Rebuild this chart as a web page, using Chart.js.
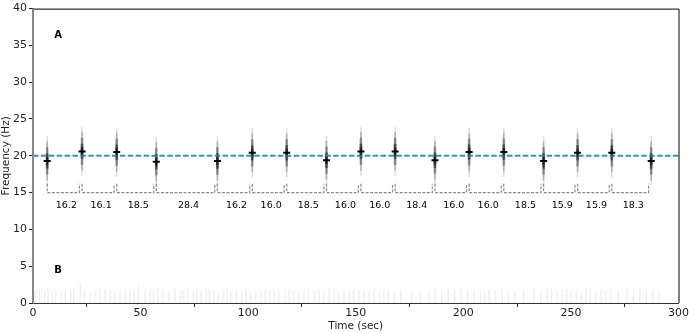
<!DOCTYPE html>
<html>
<head>
<title>Burst intervals</title>
<script src="https://cdn.jsdelivr.net/npm/chart.js"></script>
<style>
  body { margin: 0; padding: 0; background: #fff; }
  canvas { display: block; }
</style>
</head>
<body>
<canvas id="chart" width="689" height="333"></canvas>
<script>
// burst onset times (sec) and peak frequency (Hz)
const burstTimes = [6.6, 22.8, 38.9, 57.3, 85.7, 101.9, 117.9, 136.4, 152.4, 168.3, 186.8, 202.7, 218.8, 237.3, 253.1, 269.0, 287.3];
const burstFreqs = [19.3, 20.6, 20.5, 19.2, 19.3, 20.4, 20.4, 19.4, 20.6, 20.6, 19.4, 20.5, 20.5, 19.3, 20.4, 20.4, 19.3];
// inter-burst intervals printed under the brackets
const intervals = [16.2, 16.1, 18.5, 28.4, 16.2, 16.0, 18.5, 16.0, 16.0, 18.4, 16.0, 16.0, 18.5, 15.9, 15.9, 18.3];
const targetFreq = 20;
// faint background noise in panel B
const noiseTimes = [1, 3, 5.5, 7, 9, 10.5, 13, 15, 17.5, 19, 22, 24, 26.5, 29, 31, 33.5, 36, 38, 40.5, 43, 45, 47, 49, 52, 54.5, 56, 58, 60.5, 63, 66, 68.5, 70, 72, 74.5, 76, 78, 80.5, 82, 84, 86, 88.5, 90, 92, 94.5, 97, 99, 101, 103.5, 106, 108, 110, 112, 114.5, 117, 119, 121, 123.5, 126, 128, 131, 133, 135, 137.5, 140, 142, 144.5, 147, 149, 151.5, 154, 156, 158.5, 161, 163, 165, 168, 171, 176, 180, 184, 187, 190, 193, 196, 199, 202, 205, 208, 210, 212, 215, 218, 221, 224, 228, 233, 236, 239, 241, 243.5, 246, 248, 250, 252.5, 255, 257, 259, 261.5, 264, 266, 268.5, 272, 276, 279, 282, 285, 288, 291, 294, 297, 299];
const noiseHeights = [1.7, 1.8, 1.6, 1.9, 1.7, 1.8, 1.6, 1.9, 1.8, 1.7, 2.7, 1.8, 1.6, 1.7, 1.9, 1.8, 1.7, 1.6, 1.8, 1.9, 1.7, 1.8, 2.3, 1.7, 1.8, 1.6, 1.9, 1.7, 1.8, 2.0, 1.7, 1.8, 1.9, 1.6, 1.8, 1.7, 1.9, 1.8, 1.7, 1.6, 1.8, 1.9, 1.7, 1.8, 1.6, 1.9, 1.7, 1.8, 1.7, 1.9, 1.6, 1.8, 1.7, 1.8, 1.9, 1.7, 1.6, 1.8, 1.9, 1.7, 1.8, 1.7, 1.9, 1.8, 1.6, 1.7, 1.9, 1.8, 1.7, 1.8, 1.6, 1.9, 1.7, 1.8, 1.7, 1.6, 1.8, 1.7, 1.8, 1.7, 1.9, 1.6, 1.8, 1.7, 1.9, 1.8, 1.7, 1.8, 1.6, 1.9, 1.7, 1.8, 1.7, 1.6, 1.8, 1.9, 1.7, 1.8, 1.9, 1.7, 1.8, 1.9, 1.7, 1.8, 1.6, 1.9, 1.8, 1.7, 1.8, 1.7, 1.8, 1.6, 1.9, 1.7, 1.8, 1.7, 1.8, 1.7];

// spectrogram streak: layers getting darker and wider toward the peak
const streakLayers = [
  { half: 3.3, width: 1, alpha: 0.12 },
  { half: 2.6, width: 1, alpha: 0.22 },
  { half: 1.8, width: 2, alpha: 0.3 },
  { half: 1.0, width: 2, alpha: 0.45 },
  { half: 0.5, width: 2, alpha: 0.5 }
];

const streakSets = streakLayers.map((l, k) => ({
  type: 'bar',
  data: burstTimes.map((t, i) => ({ x: t, y: [burstFreqs[i] - l.half, burstFreqs[i] + l.half] })),
  backgroundColor: 'rgba(0,0,0,' + l.alpha + ')',
  borderWidth: 0,
  barThickness: l.width,
  grouped: false,
  order: 9 - k
}));

// interval brackets
const bracketPts = [];
for (let i = 0; i < intervals.length; i++) {
  const a = burstTimes[i], b = burstTimes[i + 1] - 1.2;
  bracketPts.push({ x: a, y: 16.2 }, { x: a, y: 15 }, { x: b, y: 15 }, { x: b, y: 16.2 }, { x: b, y: null });
}

const labelPlugin = {
  id: 'labels',
  afterDatasetsDraw(chart) {
    const { ctx, chartArea: ca, scales: { x, y } } = chart;
    ctx.save();
    ctx.fillStyle = '#000';
    ctx.font = '9.5px "DejaVu Sans"';
    ctx.textAlign = 'center';
    ctx.textBaseline = 'middle';
    intervals.forEach((v, i) => {
      const mid = (burstTimes[i] + burstTimes[i + 1]) / 2 + 0.8;
      ctx.fillText(v.toFixed(1), x.getPixelForValue(mid), y.getPixelForValue(13.3));
    });
    ctx.font = 'bold 10px "DejaVu Sans"';
    ctx.fillText('A', x.getPixelForValue(11.7), y.getPixelForValue(36.3));
    ctx.fillText('B', x.getPixelForValue(11.7), y.getPixelForValue(4.4));
    // frame
    ctx.strokeStyle = '#000';
    ctx.lineWidth = 1;
    ctx.beginPath();
    ctx.moveTo(ca.left, ca.top + 0.5);
    ctx.lineTo(ca.right + 0.5, ca.top + 0.5);
    ctx.lineTo(ca.right + 0.5, ca.bottom);
    ctx.stroke();
    ctx.strokeStyle = '#888';
    ctx.lineWidth = 2;
    ctx.beginPath();
    ctx.moveTo(ca.left, ca.top);
    ctx.lineTo(ca.left, ca.bottom);
    ctx.stroke();
    ctx.restore();
  }
};

const axisFont = { family: 'DejaVu Sans', size: 11 };

new Chart(document.getElementById('chart'), {
  type: 'bar',
  data: {
    datasets: [
      {
        type: 'bar',
        data: noiseTimes.map((t, i) => ({ x: t, y: noiseHeights[i] })),
        backgroundColor: 'rgba(0,0,0,0.06)',
        borderWidth: 0,
        barThickness: 1,
        grouped: false,
        order: 10
      },
      ...streakSets,
      {
        type: 'line',
        data: bracketPts,
        borderColor: '#8a8a8a',
        borderWidth: 1.2,
        borderDash: [3, 1.5],
        pointRadius: 0,
        spanGaps: false,
        order: 5
      },
      {
        type: 'line',
        data: [{ x: 0, y: targetFreq }, { x: 300, y: targetFreq }],
        borderColor: 'rgba(31,119,180,0.85)',
        borderWidth: 2,
        borderDash: [5.5, 2.4],
        pointRadius: 0,
        order: 4
      },
      {
        type: 'scatter',
        data: burstTimes.map((t, i) => ({ x: t, y: burstFreqs[i] })),
        pointStyle: 'line',
        pointRadius: 3.5,
        borderColor: '#000',
        borderWidth: 2,
        order: 1
      }
    ]
  },
  options: {
    responsive: false,
    animation: false,
    layout: { padding: { top: 3, right: 7, left: 0, bottom: 0 } },
    plugins: { legend: { display: false }, tooltip: { enabled: false } },
    scales: {
      x: {
        type: 'linear',
        min: 0, max: 300,
        offset: false,
        afterFit(s) { s.height = 30; },
        ticks: { stepSize: 50, color: '#222', font: axisFont, padding: 0, maxRotation: 0 },
        grid: { drawOnChartArea: false, tickLength: 4, tickColor: '#222' },
        border: { color: '#333', width: 1 },
        title: { display: true, text: 'Time (sec)', color: '#222', font: { family: 'DejaVu Sans', size: 10.5 }, padding: { top: 0, bottom: 0 } }
      },
      y: {
        min: 0, max: 40,
        afterFit(s) { s.width = 33; },
        ticks: { stepSize: 5, color: '#222', font: axisFont, padding: 2 },
        grid: { drawOnChartArea: false, tickLength: 4, tickColor: '#222' },
        border: { color: '#888', width: 1 },
        title: { display: true, text: 'Frequency (Hz)', color: '#222', font: { family: 'DejaVu Sans', size: 10.5 }, padding: { top: 0, bottom: 1 } }
      }
    }
  },
  plugins: [labelPlugin]
});
</script>
</body>
</html>
